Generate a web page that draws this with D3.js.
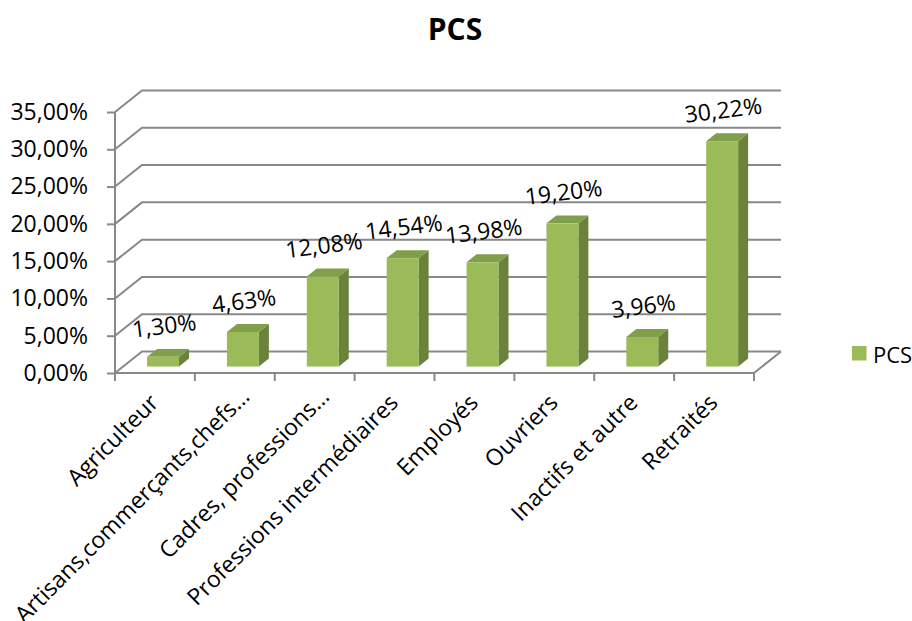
<!DOCTYPE html>
<html>
<head>
<meta charset="utf-8">
<script src="https://cdn.jsdelivr.net/npm/d3@7"></script>
<style>
  html, body { margin: 0; padding: 0; background: #fff; }
  svg text { font-family: "Open Sans", "Noto Sans", sans-serif; fill: #000; }
</style>
</head>
<body>
<svg id="chart" width="912" height="621"></svg>
<script>
// Répartition par PCS
const categories = [
  "Agriculteur",
  "Artisans,commerçants,chefs…",
  "Cadres, professions…",
  "Professions intermédiaires",
  "Employés",
  "Ouvriers",
  "Inactifs et autre",
  "Retraités"
];
const values = [1.30, 4.63, 12.08, 14.54, 13.98, 19.20, 3.96, 30.22];
const yTicks = [0, 5, 10, 15, 20, 25, 30, 35];
const seriesName = "PCS";
const chartTitle = "PCS";

const fr = d3.formatLocale({ decimal: ",", thousands: " ", grouping: [3], currency: ["", " €"] });
const pct = v => fr.format(".2%")(v / 100);

const svg = d3.select("#chart");

// plot geometry (front plane + oblique depth)
const plotLeft = 115, plotRight = 754, plotBottom = 373, plotTop = 112;
const DX = 27, DY = -21.5;           // depth of the floor / side wall
const bz0 = 0.3, bz1 = 0.67;         // bar depth span, as a fraction of the floor depth

const x = d3.scaleBand().domain(categories).range([plotLeft, plotRight])
  .paddingInner(0.6).paddingOuter(0.3);
const y = d3.scaleLinear().domain([0, 35]).range([plotBottom, plotTop]);
const step = x.step();

const gridColor = "#888888";
const grid = svg.append("g").attr("fill", "none").attr("stroke", gridColor).attr("stroke-width", 2);

// side wall diagonals + back gridlines
yTicks.forEach(t => {
  const yy = y(t);
  grid.append("path")
    .attr("d", `M${plotLeft},${yy}L${plotLeft + DX},${yy + DY}L${plotRight + DX},${yy + DY}`);
});
// floor front edge, right edge, front vertical axis
grid.append("path").attr("d", `M${plotLeft},${plotBottom}L${plotRight},${plotBottom}L${plotRight + DX},${plotBottom + DY}`);
grid.append("path").attr("d", `M${plotLeft},${y(0)}L${plotLeft},${y(35)}`);

// category boundary ticks
const boundaries = categories.map(c => x(c) - step * x.paddingOuter()).concat([plotRight]);
grid.selectAll(".xt").data(boundaries).join("line")
  .attr("x1", d => d).attr("x2", d => d)
  .attr("y1", plotBottom).attr("y2", plotBottom + 8);

// value axis
const yAxis = svg.append("g")
  .attr("transform", `translate(${plotLeft},0)`)
  .call(d3.axisLeft(y).tickValues(yTicks).tickFormat(pct).tickSize(8).tickSizeOuter(0).tickPadding(19));
yAxis.select(".domain").remove();
yAxis.selectAll(".tick line").attr("stroke", gridColor).attr("stroke-width", 2);
yAxis.selectAll(".tick text")
  .attr("font-size", 23)
  .attr("font-family", '"Open Sans", sans-serif')
  .attr("fill", "#000");

// 3D columns
const fx0 = DX * bz0, fy0 = DY * bz0;
const sdx = DX * (bz1 - bz0), sdy = DY * (bz1 - bz0);
const bars = svg.append("g");
categories.forEach((c, i) => {
  const v = values[i];
  const x0 = x(c) + fx0, x1 = x0 + x.bandwidth();
  const yT = y(v) + fy0, yB = y(0) + fy0;
  const g = bars.append("g");
  g.append("path").attr("fill", "#6A823A")
    .attr("d", `M${x1},${yT}L${x1 + sdx},${yT + sdy}L${x1 + sdx},${yB + sdy}L${x1},${yB}Z`);
  g.append("path").attr("fill", "#809F4A")
    .attr("d", `M${x0},${yT}L${x0 + sdx},${yT + sdy}L${x1 + sdx},${yT + sdy}L${x1},${yT}Z`);
  g.append("rect").attr("fill", "#9BBB59")
    .attr("x", x0).attr("y", yT).attr("width", x.bandwidth()).attr("height", yB - yT);
  // value label
  svg.append("text")
    .attr("transform", `translate(${(x0 + x1) / 2 + 1},${yT - 32}) rotate(-7)`)
    .attr("text-anchor", "middle")
    .attr("dominant-baseline", "central")
    .attr("font-size", 23)
    .text(pct(v));
});

// category labels, rotated
svg.append("g").selectAll("text").data(categories).join("text")
  .attr("transform", d => {
    const cx = x(d) + x.bandwidth() / 2;
    const trunc = d.endsWith("…");
    return `translate(${cx + (trunc ? 16 : 5)},${trunc ? 398 : 404}) rotate(-45)`;
  })
  .attr("text-anchor", "end")
  .attr("font-size", 23)
  .text(d => d);

// title
svg.append("text")
  .attr("x", 455).attr("y", 40)
  .attr("text-anchor", "middle")
  .attr("font-size", 30)
  .attr("font-weight", "bold")
  .text(chartTitle);

// legend
const lg = svg.append("g").attr("transform", "translate(852,346)");
lg.append("rect").attr("width", 14.5).attr("height", 14.5).attr("fill", "#9BBB59");
lg.append("text").attr("x", 21).attr("y", 7.5)
  .attr("dominant-baseline", "central")
  .attr("font-size", 22)
  .text(seriesName);
</script>
</body>
</html>
